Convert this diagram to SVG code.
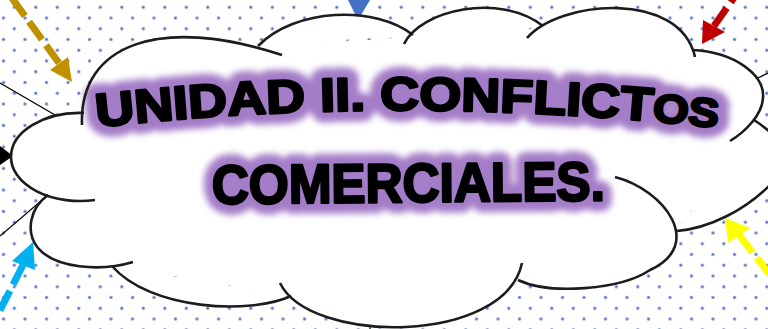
<svg xmlns="http://www.w3.org/2000/svg" width="768" height="329" viewBox="0 0 768 329">
<defs>
<pattern id="dots" width="21.5" height="21.5" patternUnits="userSpaceOnUse">
<circle cx="14.3" cy="7.3" r="1.9" fill="#b4c3e6"/><circle cx="14.3" cy="7.3" r="1.1" fill="#3d62b0"/>
<circle cx="3.5" cy="18" r="1.9" fill="#b4c3e6"/><circle cx="3.5" cy="18" r="1.1" fill="#3d62b0"/>
</pattern>
<filter id="glow" filterUnits="userSpaceOnUse" x="0" y="0" width="768" height="329"><feGaussianBlur stdDeviation="3"/></filter>
<path id="arch" d="M97,127 Q405,93 720,128"/>
</defs>
<style>
.cl{fill:none;stroke:#1c1c1c;stroke-width:2.6}
.cf{fill:#fff;stroke:none}
.t{font-family:"Liberation Sans",Arial,sans-serif;font-weight:bold}
.g{fill:#a47dc8;stroke:#a47dc8;stroke-width:22;stroke-linejoin:round;filter:url(#glow)}
.k{fill:#000;stroke:#000;stroke-width:2.6;stroke-linejoin:round}
.thin{stroke:#000;stroke-width:1.2;fill:none}
.sh{fill:none;stroke-width:7;stroke-dasharray:22 7}
</style>
<rect width="768" height="329" fill="#fff"/>
<rect width="768" height="329" fill="url(#dots)"/>
<g id="connectors">
<line class="thin" x1="0" y1="83" x2="62" y2="119"/>
<line class="thin" x1="0" y1="236" x2="48" y2="195"/>
<line class="thin" x1="756" y1="79" x2="768" y2="73"/>
<line class="thin" x1="370" y1="324" x2="370" y2="329"/>
<line class="sh" stroke="#bf9000" x1="59" y1="63" x2="6" y2="-10"/>
<polygon fill="#bf9000" points="50,70 68,57 72,82"/>
<polygon fill="#4472c4" points="348,0 370,0 358,20"/>
<line class="sh" stroke="#c00000" x1="714" y1="26" x2="743" y2="-15"/>
<polygon fill="#c00000" points="703,20 725,32 702,44"/>
<polygon fill="#000" points="0,146 0,165 13,156"/>
<line class="sh" stroke="#00b0f0" x1="23" y1="265" x2="-12" y2="334"/>
<polygon fill="#00b0f0" points="12,261 35,270 33,242"/>
<line class="sh" stroke="#ffff00" x1="739" y1="235" x2="782" y2="290"/>
<polygon fill="#ffff00" points="728,243 750,228 725,218"/>
</g>
<g id="cloud">
<path class="cf" d="M84,117 L258,48 L410,37 L540,28 L694,52 L755,121 L677,230 L518,278 L290,295 L113,266 L48,196 Z"/>
<path class="cf" d="M95,200 A69,44 0 0 1 11,157 A69,44 0 0 1 84,113 Z"/>
<path class="cf" d="M82,125 C79,44 160,15 282,55 Z"/>
<path class="cf" d="M258,46 C295,8 375,5 413,35 Z"/>
<path class="cf" d="M404,44 C420,10 500,-8 543,26 Z"/>
<path class="cf" d="M527,38 C560,0 680,-10 695,57 Z"/>
<path class="cf" d="M692,50 C735,52 765,75 763,98 C762,115 745,132 730,141 Z"/>
<path class="cf" d="M754,120 C785,140 800,165 770,185 C745,210 710,228 677,231 Z"/>
<path class="cf" d="M615,177 C665,190 705,245 650,270 C620,290 550,295 518,280 Z"/>
<path class="cf" d="M522,263 C505,345 310,345 280,283 Z"/>
<path class="cf" d="M291,296 C250,315 150,310 112,266 Z"/>
<path class="cf" d="M133,262 C100,272 55,268 38,248 C25,232 30,208 48,195 Z"/>
<text class="t g" font-size="47"><textPath href="#arch" textLength="622" lengthAdjust="spacingAndGlyphs">UNIDAD II. CONFLICT<tspan font-size="40">OS</tspan></textPath></text>
<text class="t g" x="212" y="202" font-size="55" textLength="393" lengthAdjust="spacingAndGlyphs" transform="rotate(-0.5 410 200)">COMERCIALES.</text>
<path class="cl" d="M95,200 A69,44 0 0 1 11,157 A69,44 0 0 1 84,113"/>
<path class="cl" d="M82,125 C79,44 160,15 282,55"/>
<path class="cl" d="M258,46 C295,8 375,5 413,35"/>
<path class="cl" d="M404,44 C420,10 500,-8 543,26"/>
<path class="cl" d="M527,38 C560,0 680,-10 695,57"/>
<path class="cl" d="M692,50 C735,52 765,75 763,98 C762,115 745,132 730,141"/>
<path class="cl" d="M754,120 C785,140 800,165 770,185 C745,210 710,228 677,231"/>
<path class="cl" d="M615,177 C665,190 705,245 650,270 C620,290 550,295 518,280"/>
<path class="cl" d="M522,263 C505,345 310,345 280,283"/>
<path class="cl" d="M291,296 C250,315 150,310 112,266"/>
<path class="cl" d="M133,262 C100,272 55,268 38,248 C25,232 30,208 48,195"/>
<text class="t k" font-size="47"><textPath href="#arch" textLength="622" lengthAdjust="spacingAndGlyphs">UNIDAD II. CONFLICT<tspan font-size="40">OS</tspan></textPath></text>
<text class="t k" x="212" y="202" font-size="55" textLength="393" lengthAdjust="spacingAndGlyphs" transform="rotate(-0.5 410 200)">COMERCIALES.</text>
</g>
</svg>
